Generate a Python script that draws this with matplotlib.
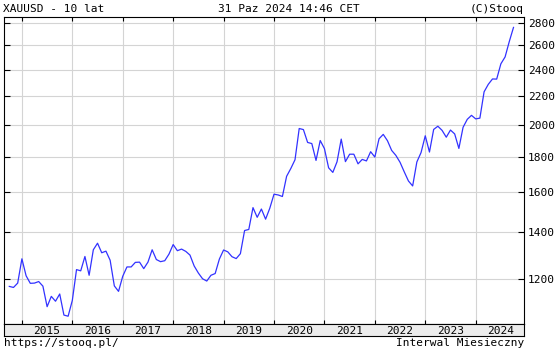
import matplotlib
matplotlib.use("Agg")
import matplotlib.pyplot as plt
import matplotlib.transforms as mtransforms
from matplotlib.ticker import NullLocator, NullFormatter

# monthly closes XAUUSD, Oct 2014 .. Oct 2024
prices = [
    1171, 1167, 1184,
    1283, 1213, 1183, 1184, 1190, 1172, 1095, 1133, 1115, 1142, 1065, 1061,
    1118, 1238, 1233, 1293, 1215, 1322, 1351, 1309, 1316, 1277, 1173, 1152,
    1211, 1249, 1249, 1268, 1269, 1242, 1269, 1322, 1280, 1271, 1275, 1303,
    1345, 1318, 1325, 1315, 1299, 1253, 1224, 1201, 1192, 1215, 1222, 1282,
    1321, 1313, 1292, 1284, 1305, 1409, 1414, 1520, 1472, 1513, 1463, 1517,
    1589, 1585, 1577, 1686, 1730, 1781, 1975, 1968, 1886, 1879, 1777, 1898,
    1848, 1734, 1708, 1769, 1907, 1770, 1814, 1814, 1757, 1783, 1774, 1829,
    1797, 1909, 1937, 1897, 1837, 1807, 1766, 1711, 1660, 1633, 1768, 1824,
    1928, 1827, 1969, 1990, 1963, 1919, 1965, 1940, 1849, 1983, 2036, 2063,
    2039, 2044, 2230, 2286, 2327, 2326, 2447, 2503, 2634, 2760,
]
years = [2015, 2016, 2017, 2018, 2019, 2020, 2021, 2022, 2023, 2024]
yticks = [1200, 1400, 1600, 1800, 2000, 2200, 2400, 2600, 2800]

title_left = "XAUUSD - 10 lat"
title_mid = "31 Paz 2024 14:46 CET"
title_right = "(C)Stooq"
foot_left = "https://stooq.pl/"
foot_right = "Interwal Miesieczny"

W, H = 557, 351
FONT = "DejaVu Sans Mono"
FS = 8
LINE = "#3232ff"
GRID = "#d4d4d4"

x = list(range(len(prices)))
# first month in series is Oct 2014 -> Jan of year y sits at index 3 + 12*k
year_start = [3 + 12 * k for k in range(len(years))]
year_mid = [s + 6 for s in year_start]

fig = plt.figure(figsize=(W / 100, H / 100), dpi=100)
fig.patch.set_facecolor("white")

# main panel
ax = fig.add_axes([4 / W, 27 / H, 520 / W, (324 - 17.3) / H])
ax.plot(x, prices, color=LINE, lw=0.9, zorder=3)
ax.set_yscale("log")
ax.set_ylim(1034, 2854)
ax.set_xlim(-1.26, 122.5)

ax.set_yticks(yticks)
ax.set_yticklabels([str(t) for t in yticks])
ax.yaxis.set_minor_locator(NullLocator())
ax.yaxis.set_minor_formatter(NullFormatter())
ax.set_xticks(year_start)
ax.set_xticklabels([])
ax.xaxis.set_minor_locator(NullLocator())

ax.tick_params(axis="y", left=True, right=True, labelleft=False, labelright=True,
               direction="in", length=4, width=0.8, pad=3, labelsize=FS)
ax.tick_params(axis="x", top=True, bottom=True, direction="in",
               length=3, width=0.8)
for lab in ax.get_yticklabels():
    lab.set_fontfamily(FONT)

ax.grid(True, color=GRID, lw=0.8)
ax.set_axisbelow(True)
for sp in ax.spines.values():
    sp.set_color("black")
    sp.set_linewidth(0.8)

# year band under the chart
axb = fig.add_axes([4 / W, 15.3 / H, 520 / W, 11.7 / H])
axb.set_facecolor("#ececec")
axb.set_xlim(ax.get_xlim())
axb.set_xticks([])
axb.set_yticks([])
for sp in axb.spines.values():
    sp.set_color("black")
    sp.set_linewidth(0.8)

trans = mtransforms.blended_transform_factory(axb.transData, fig.transFigure)
for xm, yr in zip(year_mid, years):
    axb.text(xm, 1 - 334 / H, str(yr), transform=trans, ha="center",
             va="baseline", fontsize=FS, family=FONT)

# header / footer
fig.text(3.3 / W, 1 - 12 / H, title_left, ha="left", va="baseline", fontsize=FS, family=FONT)
fig.text(218.5 / W, 1 - 12 / H, title_mid, ha="left", va="baseline", fontsize=FS, family=FONT)
fig.text(524 / W, 1 - 12 / H, title_right, ha="right", va="baseline", fontsize=FS, family=FONT)
fig.text(4 / W, 1 - 346.5 / H, foot_left, ha="left", va="baseline", fontsize=FS, family=FONT)
fig.text(524 / W, 1 - 346.5 / H, foot_right, ha="right", va="baseline", fontsize=FS, family=FONT)

fig.savefig("out.png", dpi=100)
